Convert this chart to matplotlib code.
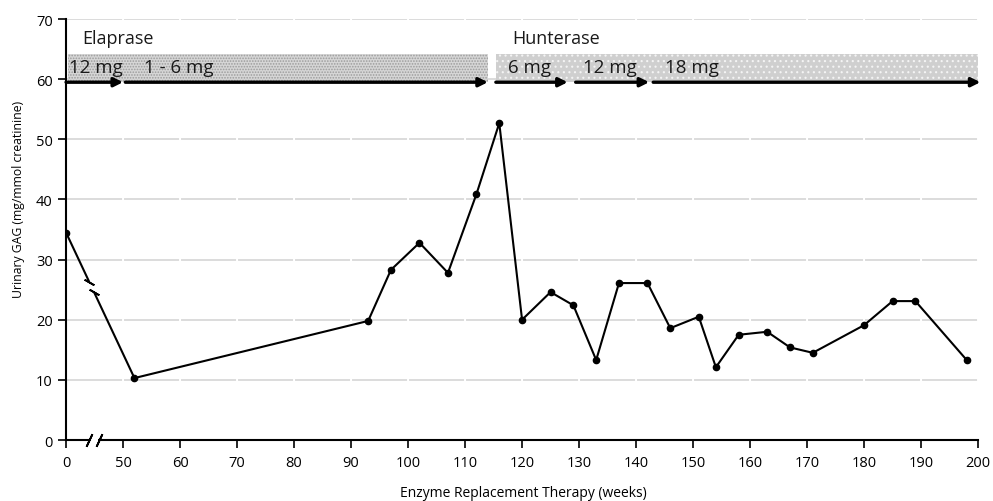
import matplotlib
matplotlib.use("Agg")
import matplotlib.pyplot as plt
import numpy as np

plt.rcParams["font.family"] = ["Open Sans", "DejaVu Sans"]
plt.rcParams["lines.scale_dashes"] = False
plt.rcParams["hatch.linewidth"] = 0.8

# urinary GAG over time
weeks = [0, 52, 93, 97, 102, 107, 112, 116, 120, 125, 129, 133, 137, 142,
         146, 151, 154, 158, 163, 167, 171, 180, 185, 189, 198]
gag = [34.5, 10.3, 19.8, 28.3, 32.8, 27.8, 40.9, 52.7, 20.0, 24.6, 22.4, 13.3, 26.1, 26.1,
       18.6, 20.5, 12.1, 17.5, 18.0, 15.4, 14.5, 19.1, 23.1, 23.1, 13.3]

# enzyme periods (shaded bands)
drugs = ["Elaprase", "Hunterase"]
drug_start = [1.5, 115.5]
drug_end = [114, 200.5]
drug_label_x = [14, 118.2]

# dose arrows
dose_labels = ["12 mg", "1 - 6 mg", "6 mg", "12 mg", "18 mg"]
dose_start = [0, 50.4, 115.4, 129.4, 143]
dose_end = [50, 114, 128, 142.3, 200.4]
dose_label_x = [2.5, 53.7, 117.5, 130.7, 145]

x_ticks = [0, 50, 60, 70, 80, 90, 100, 110, 120, 130, 140, 150, 160, 170, 180, 190, 200]


# broken x axis: weeks 0-50 squeezed into one tick interval
def fwd(x):
    x = np.asarray(x, dtype=float)
    return np.where(x < 50, 40 + x / 5, x)


def inv(p):
    p = np.asarray(p, dtype=float)
    return np.where(p < 50, (p - 40) * 5, p)


fig = plt.figure(figsize=(9.93, 5.02), dpi=100)
ax = fig.add_axes([0.0665, 0.1215, 0.9185, 0.8385])
ax.set_xscale("function", functions=(fwd, inv))
ax.set_xlim(0, 200)
ax.set_ylim(0, 70)

# grid
ax.set_yticks(range(0, 71, 10))
for y in range(10, 71, 10):
    ax.axhline(y, color="#d9d9d9", lw=1.3, zorder=0,
               linestyle=(40.3, (39.6, 1.44)))

# shaded bands
band_styles = [dict(facecolor="#d6d6d6", edgecolor="#9c9c9c", hatch="......"),
               dict(facecolor="#cfcfcf", edgecolor="#f4f4f4", hatch="...")]
for s, e, st in zip(drug_start, drug_end, band_styles):
    ax.fill_between([s, e], 59.5, 64.2, lw=0, zorder=1, **st)

for name, x in zip(drugs, drug_label_x):
    ax.text(x, 66.0, name, fontsize=13, va="baseline", ha="left", color="#1a1a1a")

# dose arrows and labels
for lab, s, e, lx in zip(dose_labels, dose_start, dose_end, dose_label_x):
    ax.annotate("", xy=(e, 59.5), xytext=(s, 59.5), annotation_clip=False,
                arrowprops=dict(arrowstyle="-|>", color="black", lw=2.4,
                                mutation_scale=13, shrinkA=0, shrinkB=0),
                zorder=3)
    ax.text(lx, 61.2, lab, fontsize=13.5, va="baseline", ha="left", color="#1a1a1a", zorder=4)

# data line
ax.plot(weeks, gag, color="black", lw=1.5, marker="o", markersize=4.5, zorder=5)

# break marks on the first segment (in display-linear space)
p0, p1 = fwd(weeks[0]), fwd(weeks[1])
t0, t1 = 0.34, 0.41
xa, xb = inv(p0 + t0 * (p1 - p0)), inv(p0 + t1 * (p1 - p0))
ya = gag[0] + t0 * (gag[1] - gag[0])
yb = gag[0] + t1 * (gag[1] - gag[0])
ax.plot([xa, xb], [ya, yb], color="white", lw=4, solid_capstyle="butt", zorder=6)
ax.plot([xa, xb], [ya, yb], ls="none", marker=(2, 2, 60), markersize=8,
        markeredgewidth=1.3, color="black", zorder=7)

# break marks on the x axis
ax.plot([21, 28], [0, 0], color="white", lw=3, solid_capstyle="butt",
        zorder=6, clip_on=False)
ax.plot([20, 29], [0, 0], ls="none", marker=(2, 2, -25), markersize=10,
        markeredgewidth=1.3, color="black", zorder=7, clip_on=False)

# axes styling
for side in ["top", "right"]:
    ax.spines[side].set_visible(False)
for side in ["left", "bottom"]:
    ax.spines[side].set_color("black")
    ax.spines[side].set_linewidth(1.5)
ax.set_xticks(x_ticks)
ax.set_xticklabels([str(v) for v in x_ticks])
ax.tick_params(axis="both", direction="out", length=6, width=1.2,
               labelsize=10.5, colors="black")
ax.tick_params(axis="x", pad=5)

ax.set_xlabel("Enzyme Replacement Therapy (weeks)", fontsize=10, va="top")
ax.xaxis.set_label_coords(0.501, -0.107)
ax.set_ylabel("Urinary GAG (mg/mmol creatinine)", fontsize=8.8)
ax.yaxis.set_label_coords(-0.045, 0.575)

fig.savefig("out.png", dpi=100)
plt.close(fig)
